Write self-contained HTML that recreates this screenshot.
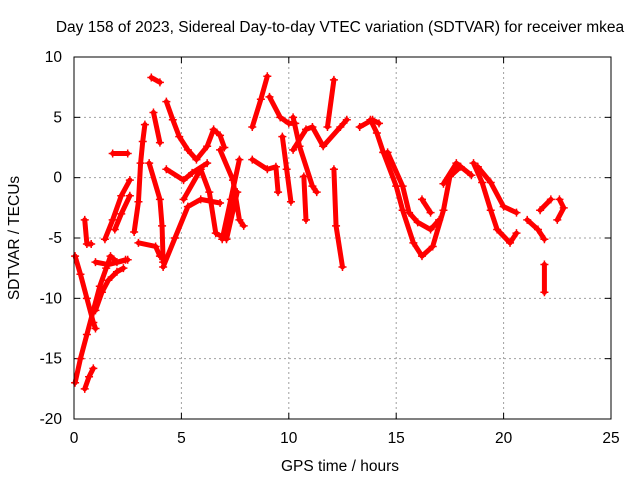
<!DOCTYPE html>
<html><head><meta charset="utf-8"><style>
html,body{margin:0;padding:0;background:#fff;}
svg{display:block;font-family:"Liberation Sans",sans-serif;}
</style></head><body>
<svg id="chart" width="640" height="480">
<rect width="640" height="480" fill="#fff"/>
<text x="340" y="32" font-size="15.5" text-anchor="middle">Day 158 of 2023, Sidereal Day-to-day VTEC variation (SDTVAR) for receiver mkea</text>
<text x="340" y="471" font-size="15.5" text-anchor="middle">GPS time / hours</text>
<text transform="translate(19,238) rotate(-90)" font-size="15.5" text-anchor="middle">SDTVAR / TECUs</text>
<g id="grid"></g><g id="ticks"></g><g id="marks"></g>
<rect x="74" y="57" width="537" height="362" fill="none" stroke="#000"/>
</svg>
<script>
const xTicks=[0,5,10,15,20,25];
const yTicks=[10,5,0,-5,-10,-15,-20];
const trackA=[[0.05,-6.5],[0.3,-8],[0.6,-10],[0.9,-12],[1.0,-12.5]];
const trackB=[[0.05,-17],[0.3,-15],[0.6,-13],[0.9,-11],[1.2,-9],[1.5,-7.5],[1.7,-6.5],[2.0,-7],[2.4,-6.8]];
const trackC=[[0.5,-17.5],[0.7,-16.5],[0.9,-15.8]];
const trackD=[[1.0,-11],[1.3,-9.5],[1.6,-8.5],[2.0,-7.8],[2.3,-7.5]];
const trackE=[[1.44,-5.1],[1.8,-3.5],[2.2,-1.5],[2.6,-0.2]];
const trackF=[[1.9,-4.3],[2.2,-3],[2.6,-1.5]];
const trackG=[[0.5,-3.5],[0.6,-5.5],[0.8,-5.5]];
const trackH=[[1.8,2],[2.5,2]];
const trackI=[[2.8,-4.5],[3.0,-2],[3.1,1.2],[3.2,3],[3.3,4.4]];
const trackJ=[[3.6,8.3],[4.0,7.9]];
const trackK=[[4.3,6.3],[4.6,4.8],[4.9,3.4],[5.3,2.3],[5.7,1.5],[6.2,2.6],[6.5,4],[6.8,3.5],[7.0,2.5]];
const trackL=[[3.5,1.2],[4.0,-1.8],[4.1,-4],[4.15,-7]];
const trackL2=[[3.7,5.4],[4.0,2.9]];
const trackM=[[4.15,-7.4],[4.7,-5],[5.3,-2.4],[5.9,-1.8],[6.8,-2.1]];
const trackN=[[4.3,0.7],[5.1,-0.2],[5.5,0.4],[6.2,1.2]];
const trackO=[[5.1,-1.8],[5.9,0.7],[6.3,-1.2],[6.6,-4.6],[7.1,-5.1],[7.6,-1.2]];
const trackP=[[6.8,2.3],[7.4,-0.2],[7.7,-3.5],[7.9,-4]];
const trackP2=[[7.7,1.5],[7.3,-1.8],[6.9,-5.1]];
const trackQ=[[8.3,4.2],[8.7,6.5],[9.0,8.4]];
const trackQ2=[[9.1,6.7],[9.6,5],[10,4.5],[10.3,4.5]];
const trackR=[[8.3,1.5],[9.0,0.7],[9.4,0.9],[9.5,-1.2]];
const trackS=[[9.7,3.4],[9.9,0.7],[10.1,-2]];
const trackT=[[10.2,5],[10.5,2.6],[11.1,-0.7],[11.3,-1.2]];
const trackU=[[10.2,2.3],[10.8,4],[11.1,4.2],[11.6,2.6],[12.4,4.2],[12.7,4.8]];
const trackV=[[12.1,8.1],[11.8,4.2]];
const trackW=[[12.1,0.7],[12.2,-4],[12.5,-7.4]];
const trackX=[[10.7,0.1],[10.8,-3.5]];
const trackY=[[13.3,4.2],[13.9,4.8],[14.2,4.5]];
const trackY2=[[13.8,4.8],[14.1,3.7],[14.4,2.1]];
const trackZ=[[14.4,2.1],[15.0,-0.7],[15.3,-2.7],[15.8,-5.4],[16.2,-6.5],[16.7,-5.7],[17.2,-2.7],[17.5,0.1],[18.0,0.9]];
const trackZ2=[[14.6,2.1],[15.3,-0.7],[15.6,-2.9],[16.0,-3.7],[16.6,-4.3],[17.0,-3.5]];
const trackZ3=[[18.6,1.2],[19.0,-0.4],[19.4,-2.7],[19.7,-4.3],[20.3,-5.4],[20.6,-4.6]];
const trackZ4=[[18.8,0.9],[19.4,-0.4],[20.0,-2.4],[20.6,-2.9]];
const trackZ5=[[16.2,-1.8],[16.6,-2.9]];
const trackZ6=[[17.2,-0.5],[17.8,1.2],[18.5,0.2]];
const trackR1=[[21.1,-3.5],[21.6,-4.3],[21.9,-5.1]];
const trackR2=[[21.7,-2.7],[22.2,-1.8]];
const trackR3=[[22.6,-1.8],[22.8,-2.5],[22.5,-3.5]];
const trackR4=[[21.9,-7.2],[21.9,-9.5]];
const trackLow=[[1.0,-7],[1.6,-7.2],[2.5,-6.8]];
const trackMisc=[[3.0,-5.4],[3.8,-5.7],[4.0,-6.5]];
const tracks=[trackA,trackB,trackC,trackD,trackE,trackF,trackG,trackH,trackI,trackJ,trackK,trackL,trackL2,trackM,trackN,trackO,trackP,trackP2,trackQ,trackQ2,trackR,trackS,trackT,trackU,trackV,trackW,trackX,trackY,trackY2,trackZ,trackZ2,trackZ3,trackZ4,trackZ5,trackZ6,trackR1,trackR2,trackR3,trackR4,trackLow,trackMisc];

const X0=74,X1=611,Y0=419,Y1=57;
const xs=v=>X0+(v-0)/(25-0)*(X1-X0);
const ys=v=>Y0-(v+20)/30*(Y0-Y1);
const NS='http://www.w3.org/2000/svg';
function mk(t,a,p){const e=document.createElementNS(NS,t);for(const k in a)e.setAttribute(k,a[k]);p.appendChild(e);return e;}
const grid=document.getElementById('grid'),ticks=document.getElementById('ticks'),marks=document.getElementById('marks');
xTicks.forEach(t=>{const x=xs(t);
 if(t>0&&t<25){const g=mk('line',{x1:x,x2:x,y1:Y1,y2:Y0,stroke:'#a0a0a0','stroke-dasharray':'2,3'},grid);
 
 }
 mk('line',{x1:x,x2:x,y1:Y0,y2:Y0-6,stroke:'#000'},ticks);
 mk('line',{x1:x,x2:x,y1:Y1,y2:Y1+6,stroke:'#000'},ticks);
 const l=mk('text',{x:x,y:443,'font-size':15.5,'text-anchor':'middle'},ticks);l.textContent=t;
 
 
});
yTicks.forEach(t=>{const y=ys(t);
 if(t>-20&&t<10){const g=mk('line',{x1:X0,x2:X1,y1:y,y2:y,stroke:'#a0a0a0','stroke-dasharray':'2,3'},grid);
 
 }
 mk('line',{x1:X0,x2:X0+6,y1:y,y2:y,stroke:'#000'},ticks);
 mk('line',{x1:X1,x2:X1-6,y1:y,y2:y,stroke:'#000'},ticks);
 const l=mk('text',{x:62,y:y+5,'font-size':15.5,'text-anchor':'end'},ticks);l.textContent=t;
 
 
});
tracks.forEach(tr=>{
 const pl=mk('polyline',{points:tr.map(p=>xs(p[0])+','+ys(p[1])).join(' '),fill:'none',stroke:'#ff0000','stroke-width':5,'stroke-linejoin':'round','stroke-linecap':'round'},marks);
 
 
 tr.forEach(p=>{const x=xs(p[0]),y=ys(p[1]);
  const m=mk('path',{d:`M${x-4},${y}H${x+4}M${x},${y-4}V${y+4}`,stroke:'#ff0000','stroke-width':1.5},marks);
  
  
 });
});
</script>
</body></html>
